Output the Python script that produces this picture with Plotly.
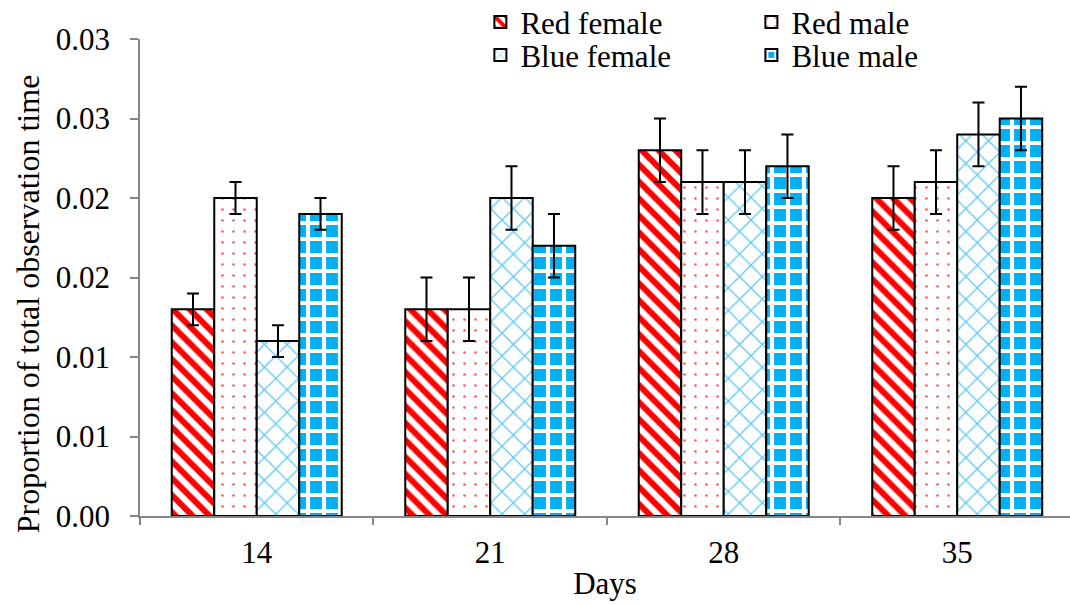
import plotly.graph_objects as go

days = ["14", "21", "28", "35"]
series_names = ["Red female", "Red male", "Blue female", "Blue male"]
red_female = [0.013, 0.013, 0.023, 0.020]
red_male = [0.020, 0.013, 0.021, 0.021]
blue_female = [0.011, 0.020, 0.021, 0.024]
blue_male = [0.019, 0.017, 0.022, 0.025]
err_red_female = [0.001, 0.002, 0.002, 0.002]
err_red_male = [0.001, 0.002, 0.002, 0.002]
err_blue_female = [0.001, 0.002, 0.002, 0.002]
err_blue_male = [0.001, 0.002, 0.002, 0.002]
ytick_vals = [0, 0.005, 0.01, 0.015, 0.02, 0.025, 0.03]
ytick_text = ["0.00", "0.01", "0.01", "0.02", "0.02", "0.03", "0.03"]
y_title = "Proportion of total observation time"
x_title = "Days"

FONT = "Liberation Serif, Times New Roman, serif"
FS = 31

patterns = [
    dict(shape="\\", fgcolor="#FF0000", bgcolor="white", size=12, solidity=0.5, fillmode="replace"),
    dict(shape=".", fgcolor="#FF5050", bgcolor="white", size=11, solidity=0.04, fillmode="replace"),
    dict(shape="x", fgcolor="#5CC8F5", bgcolor="white", size=16, solidity=0.15, fillmode="replace"),
    dict(shape="+", fgcolor="white", bgcolor="#00B0F0", size=16, solidity=0.45, fillmode="replace"),
]
values = [red_female, red_male, blue_female, blue_male]
errors = [err_red_female, err_red_male, err_blue_female, err_blue_male]
legends = ["legend", "legend", "legend2", "legend2"]

fig = go.Figure()
for name, vals, errs, pat, lg in zip(series_names, values, errors, patterns, legends):
    fig.add_trace(go.Bar(
        x=days, y=vals, name=name,
        marker=dict(color="white", pattern=pat, line=dict(color="black", width=2)),
        error_y=dict(type="data", array=errs, visible=True, color="black", thickness=2, width=6),
        legend=lg,
    ))

leg_common = dict(orientation="h", entrywidth=226, entrywidthmode="pixels",
                  font=dict(family=FONT, size=FS, color="black"),
                  bgcolor="rgba(0,0,0,0)", xanchor="left", yanchor="top",
                  itemsizing="constant", tracegroupgap=0)

fig.update_layout(
    width=1070, height=604,
    margin=dict(l=140, r=0, t=39, b=88, autoexpand=False),
    paper_bgcolor="white", plot_bgcolor="white",
    font=dict(family=FONT, size=FS, color="black"),
    barmode="group", bargap=0.272, bargroupgap=0,
    showlegend=True,
    legend=dict(x=0.366, y=1.0913, **leg_common),
    legend2=dict(x=0.366, y=1.0225, **leg_common),
    xaxis=dict(
        type="category", range=[-0.5, 3.483],
        showline=True, linecolor="#868686", linewidth=1.5,
        ticks="outside", tickson="boundaries", ticklen=7, tickcolor="#868686", tickwidth=1.5,
        showgrid=False, zeroline=False,
        tickfont=dict(family=FONT, size=FS, color="black"),
        ticklabelstandoff=8,
        title=dict(text=x_title, font=dict(family=FONT, size=FS, color="black"), standoff=3),
    ),
    yaxis=dict(
        range=[0, 0.03], tickvals=ytick_vals, ticktext=ytick_text,
        showline=True, linecolor="#868686", linewidth=1.5,
        ticks="outside", ticklen=8, tickcolor="#868686", tickwidth=1.5,
        showgrid=False, zeroline=False,
        tickfont=dict(family=FONT, size=FS, color="black"),
        ticklabelstandoff=14,
    ),
    annotations=[dict(
        text=y_title, xref="paper", yref="paper", x=-0.1204, y=0.444,
        xanchor="center", yanchor="middle", textangle=-90, showarrow=False,
        font=dict(family=FONT, size=32, color="black"),
    )],
)

fig.write_html("out.html")
